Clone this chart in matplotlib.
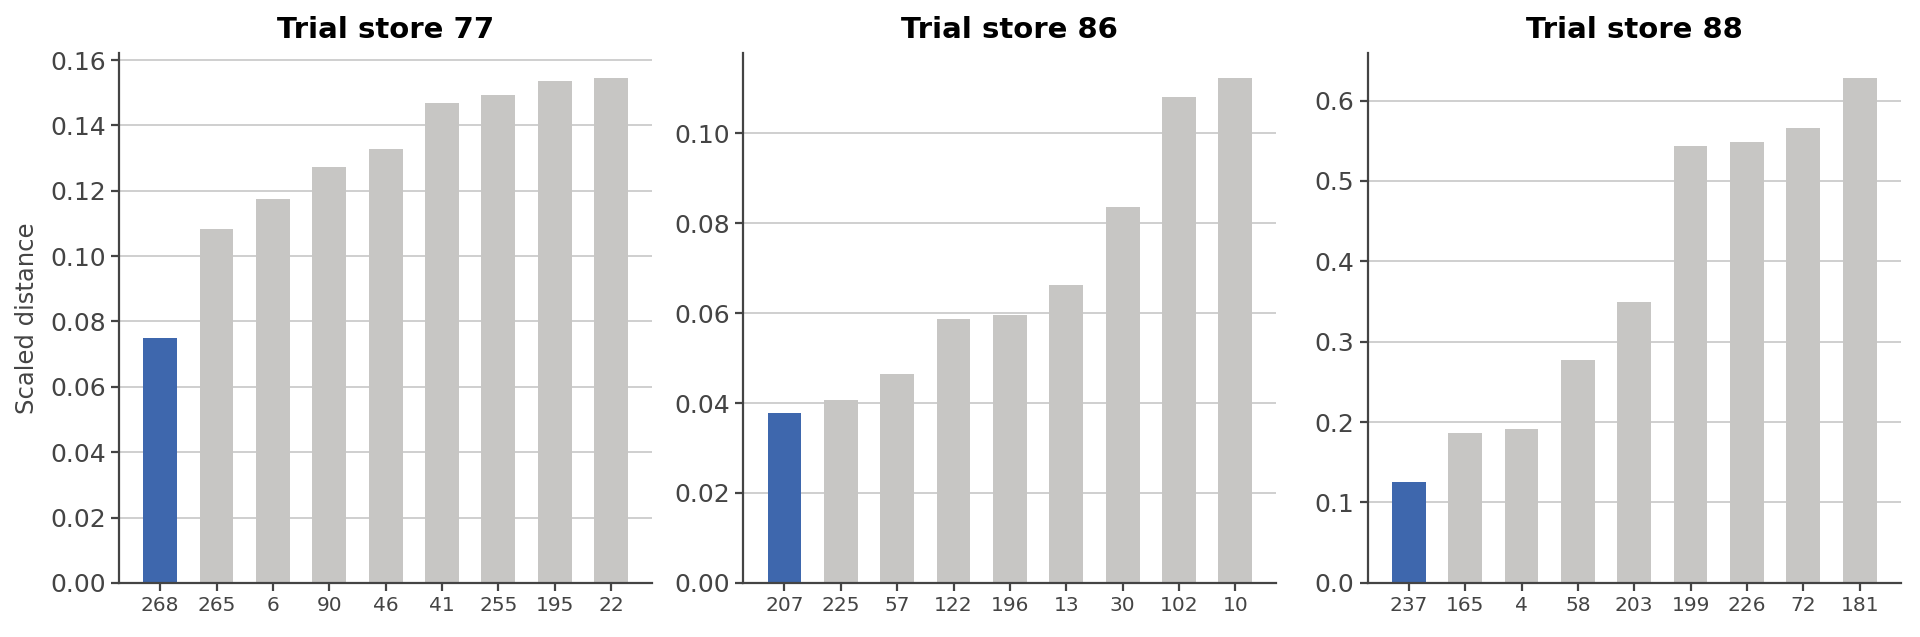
import matplotlib
matplotlib.use("Agg")
import matplotlib.pyplot as plt

# control stores ranked by scaled distance, first one is the chosen control
titles = ["Trial store 77", "Trial store 86", "Trial store 88"]

stores_77 = ["268", "265", "6", "90", "46", "41", "255", "195", "22"]
dist_77 = [0.0750, 0.1082, 0.1176, 0.1274, 0.1328, 0.1468, 0.1494, 0.1535, 0.1545]

stores_86 = ["207", "225", "57", "122", "196", "13", "30", "102", "10"]
dist_86 = [0.0377, 0.0407, 0.0464, 0.0588, 0.0595, 0.0663, 0.0836, 0.1082, 0.1123]

stores_88 = ["237", "165", "4", "58", "203", "199", "226", "72", "181"]
dist_88 = [0.126, 0.187, 0.192, 0.277, 0.349, 0.544, 0.548, 0.566, 0.628]

BLUE = "#3e67ad"
GRAY = "#c7c6c4"
DARK = "#444444"

fig, axs = plt.subplots(1, 3, figsize=(19.2, 6.37), dpi=100)
fig.subplots_adjust(left=0.062, right=0.99, bottom=0.085, top=0.917, wspace=0.171)

panels = [(stores_77, dist_77), (stores_86, dist_86), (stores_88, dist_88)]
for i, (ax, (stores, dist)) in enumerate(zip(axs, panels)):
    colors = [BLUE] + [GRAY] * (len(stores) - 1)
    x = list(range(len(stores)))
    ax.bar(x, dist, width=0.6, color=colors, zorder=2)
    ax.set_xticks(x)
    ax.set_xticklabels(stores)
    ax.set_title(titles[i], fontsize=21, fontweight="bold", pad=11)

    ax.grid(axis="y", color="#cccccc", linewidth=1.3, zorder=0)
    ax.set_axisbelow(True)
    for side in ["top", "right"]:
        ax.spines[side].set_visible(False)
    for side in ["left", "bottom"]:
        ax.spines[side].set_color(DARK)
        ax.spines[side].set_linewidth(1.6)
    ax.tick_params(axis="y", labelsize=18, colors=DARK, length=6, width=1.6)
    ax.tick_params(axis="x", labelsize=14.5, colors=DARK, length=6, width=1.6)

axs[0].set_ylabel("Scaled distance", fontsize=17.5, color=DARK, labelpad=8)

fig.savefig("out.png", dpi=100, facecolor="white")
